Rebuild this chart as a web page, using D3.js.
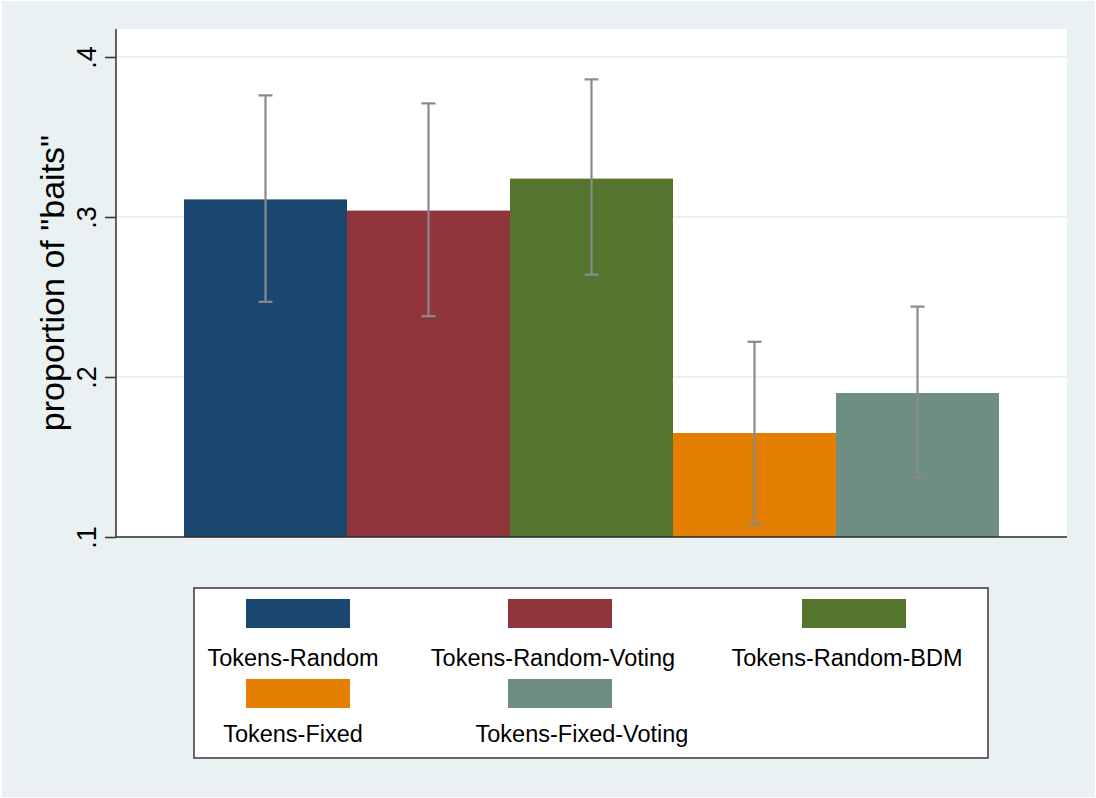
<!DOCTYPE html>
<html>
<head>
<meta charset="utf-8">
<script src="https://cdn.jsdelivr.net/npm/d3@7"></script>
<style>
  html, body { margin: 0; padding: 0; background: #ffffff; }
  svg { display: block; }
  text { font-family: "Liberation Sans", Arial, sans-serif; fill: #000; }
</style>
</head>
<body>
<svg id="chart" width="1096" height="798"></svg>
<script>
// ---- data ----
const categories = ["Tokens-Random", "Tokens-Random-Voting", "Tokens-Random-BDM", "Tokens-Fixed", "Tokens-Fixed-Voting"];
const means      = [0.311, 0.304, 0.324, 0.165, 0.190];
const ciLow      = [0.247, 0.238, 0.264, 0.108, 0.137];
const ciHigh     = [0.376, 0.371, 0.386, 0.222, 0.244];
const colors     = ["#1a476f", "#90353b", "#55752f", "#e37e00", "#6e8e84"];
const yTicks     = [0.1, 0.2, 0.3, 0.4];
const yTickLabels = [".1", ".2", ".3", ".4"];
const yTitle = "proportion of \"baits\"";

// legend layout (row, column, label offset)
const legendRow = [0, 0, 0, 1, 1];
const legendCol = [0, 1, 2, 0, 1];
const legendLabelDx = [-5, -7, -7, -5, 22];

// ---- layout ----
const W = 1096, H = 798;
const plot = { left: 116, right: 1067, top: 29, bottom: 537 };
const svg = d3.select("#chart");

svg.append("rect").attr("x", 2).attr("y", 1).attr("width", W - 3).attr("height", H - 2)
  .attr("fill", "#eaf1f3");

svg.append("rect").attr("x", plot.left).attr("y", plot.top)
  .attr("width", plot.right - plot.left).attr("height", plot.bottom - plot.top)
  .attr("fill", "#ffffff");

const y = d3.scaleLinear().domain([0.1, 0.4175]).range([plot.bottom, plot.top]);
const x = d3.scaleBand().domain(categories).range([184, 999]).padding(0);

// gridlines
svg.append("g").selectAll("line").data(yTicks.filter(t => t > 0.1)).join("line")
  .attr("x1", plot.left).attr("x2", plot.right)
  .attr("y1", d => y(d)).attr("y2", d => y(d))
  .attr("stroke", "#eaf1f3").attr("stroke-width", 2);

// bars
svg.append("g").selectAll("rect").data(categories).join("rect")
  .attr("x", d => x(d)).attr("width", x.bandwidth())
  .attr("y", (d, i) => y(means[i]))
  .attr("height", (d, i) => y(0.1) - y(means[i]))
  .attr("fill", (d, i) => colors[i]);

// error bars
const eb = svg.append("g").attr("stroke", "#8a8a8a").attr("stroke-width", 2.2);
categories.forEach((c, i) => {
  const cx = x(c) + x.bandwidth() / 2;
  eb.append("line").attr("x1", cx).attr("x2", cx).attr("y1", y(ciLow[i])).attr("y2", y(ciHigh[i]));
  eb.append("line").attr("x1", cx - 7).attr("x2", cx + 7).attr("y1", y(ciLow[i])).attr("y2", y(ciLow[i]));
  eb.append("line").attr("x1", cx - 7).attr("x2", cx + 7).attr("y1", y(ciHigh[i])).attr("y2", y(ciHigh[i]));
});

// y axis
const yAxis = d3.axisLeft(y).tickValues(yTicks).tickSize(11).tickPadding(9)
  .tickFormat((d, i) => yTickLabels[i]);
const ga = svg.append("g").attr("transform", `translate(${plot.left},0)`).call(yAxis);
ga.select(".domain").attr("stroke", "#3a3a3a").attr("stroke-width", 1.6)
  .attr("d", `M0,${plot.top}V${plot.bottom}`);
ga.selectAll(".tick line").attr("stroke", "#3a3a3a").attr("stroke-width", 1.6);
ga.selectAll(".tick text")
  .attr("font-size", 27).attr("font-family", "Liberation Sans, Arial, sans-serif")
  .attr("fill", "#111")
  .attr("x", null).attr("dy", null)
  .attr("text-anchor", "middle")
  .attr("transform", "translate(-20,0) rotate(-90)");

// x axis line
svg.append("line").attr("x1", plot.left).attr("x2", plot.right)
  .attr("y1", plot.bottom).attr("y2", plot.bottom)
  .attr("stroke", "#2a2a2a").attr("stroke-width", 1.6);

// y title
svg.append("text")
  .attr("transform", `translate(64,${(plot.top + plot.bottom) / 2}) rotate(-90)`)
  .attr("text-anchor", "middle").attr("font-size", 34).attr("fill", "#111")
  .text(yTitle);

// legend
const lg = svg.append("g");
lg.append("rect").attr("x", 194).attr("y", 588).attr("width", 794).attr("height", 170)
  .attr("fill", "#ffffff").attr("stroke", "#444").attr("stroke-width", 1.6);
const colX = [246, 508, 802];
const rowY = [599, 679];
const rowTextY = [666, 742];
categories.forEach((c, i) => {
  const sx = colX[legendCol[i]], sy = rowY[legendRow[i]];
  lg.append("rect").attr("x", sx).attr("y", sy).attr("width", 104).attr("height", 29)
    .attr("fill", colors[i]);
  lg.append("text").attr("x", sx + 52 + legendLabelDx[i]).attr("y", rowTextY[legendRow[i]])
    .attr("text-anchor", "middle").attr("font-size", 23.5).attr("fill", "#111")
    .text(c);
});
</script>
</body>
</html>
